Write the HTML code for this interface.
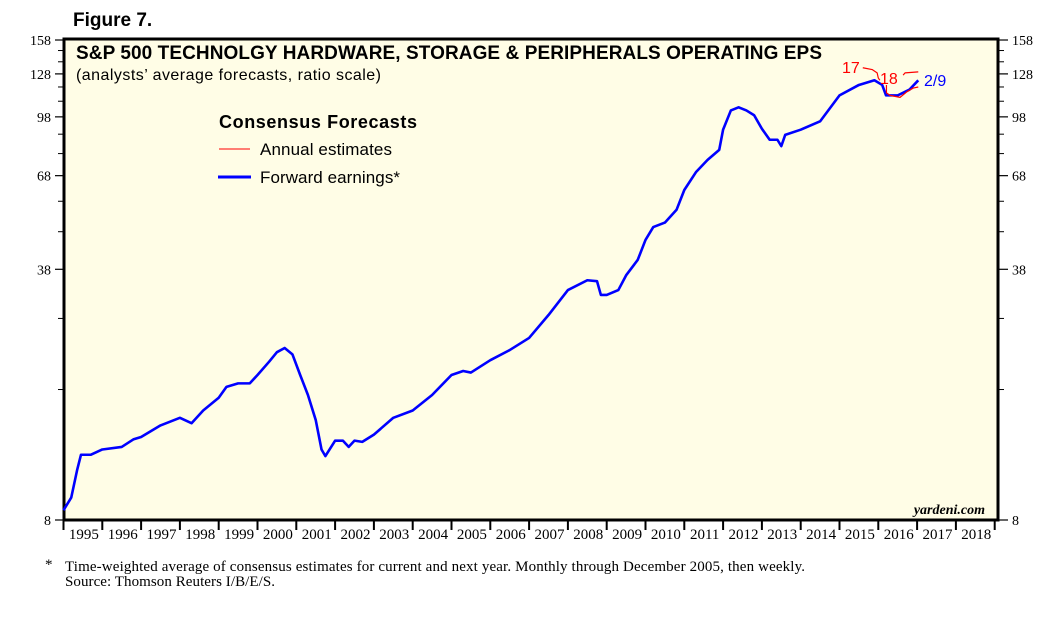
<!DOCTYPE html>
<html><head><meta charset="utf-8"><style>
body{margin:0;background:#fff;width:1055px;height:626px;overflow:hidden;font-family:"Liberation Sans",sans-serif}
</style></head><body>
<svg id="chart" width="1055" height="626" xmlns="http://www.w3.org/2000/svg">
<text x="73" y="26" font-size="19" font-weight="bold" font-family="Liberation Sans">Figure 7.</text>
<rect x="64" y="39" width="934" height="481" fill="#fffde6" stroke="#000" stroke-width="3"/>
<text x="76" y="59" font-size="19" font-weight="bold" font-family="Liberation Sans" textLength="746">S&amp;P 500 TECHNOLGY HARDWARE, STORAGE &amp; PERIPHERALS OPERATING EPS</text>
<text x="76" y="80" font-size="16" font-family="Liberation Sans" textLength="305">(analysts’ average forecasts, ratio scale)</text>
<text x="219" y="128" font-size="18" font-weight="bold" font-family="Liberation Sans" textLength="198">Consensus Forecasts</text>
<line x1="219" y1="149" x2="250" y2="149" stroke="#f00" stroke-width="1"/>
<text x="260" y="155" font-size="17" font-family="Liberation Sans" textLength="132">Annual estimates</text>
<line x1="218" y1="177" x2="251" y2="177" stroke="#00f" stroke-width="3"/>
<text x="260" y="183" font-size="17" font-family="Liberation Sans" textLength="140">Forward earnings*</text>
<text x="985" y="514" font-size="14" font-style="italic" font-weight="bold" text-anchor="end" font-family="Liberation Serif">yardeni.com</text>
<text x="45" y="569" font-size="15" font-family="Liberation Serif">*</text>
<text x="65" y="571" font-size="15" font-family="Liberation Serif" textLength="740">Time-weighted average of consensus estimates for current and next year. Monthly through December 2005, then weekly.</text>
<text x="65" y="586" font-size="15" font-family="Liberation Serif" textLength="210">Source: Thomson Reuters I/B/E/S.</text>
<g id="axes"></g><g id="series"></g>
</svg>
<script>
const yTickLabels=[8,38,68,98,128,158];
const yMinorTicks=[18,28,48,58,78,88,108,118,138,148];
const years=[1995,1996,1997,1998,1999,2000,2001,2002,2003,2004,2005,2006,2007,2008,2009,2010,2011,2012,2013,2014,2015,2016,2017,2018];
const fwdDates=[1995.0,1995.2,1995.35,1995.45,1995.7,1996.0,1996.5,1996.8,1997.0,1997.5,1998.0,1998.3,1998.6,1999.0,1999.2,1999.5,1999.8,2000.0,2000.3,2000.5,2000.7,2000.9,2001.1,2001.3,2001.5,2001.65,2001.75,2002.0,2002.2,2002.35,2002.5,2002.7,2003.0,2003.5,2004.0,2004.5,2005.0,2005.3,2005.5,2006.0,2006.5,2007.0,2007.5,2008.0,2008.5,2008.75,2008.85,2009.0,2009.3,2009.5,2009.8,2010.0,2010.2,2010.5,2010.8,2011.0,2011.3,2011.6,2011.9,2012.0,2012.2,2012.4,2012.6,2012.8,2013.0,2013.2,2013.4,2013.5,2013.6,2014.0,2014.5,2015.0,2015.5,2015.9,2016.1,2016.2,2016.5,2016.8,2017.03];
const fwdValues=[8.5,9.2,10.9,12.0,12.0,12.4,12.6,13.2,13.4,14.4,15.1,14.6,15.8,17.1,18.3,18.7,18.7,19.7,21.4,22.7,23.3,22.4,19.7,17.4,14.9,12.4,11.9,13.1,13.1,12.6,13.1,13.0,13.6,15.1,15.8,17.4,19.7,20.2,20.0,21.6,23.0,24.8,28.6,33.4,35.5,35.3,32.4,32.4,33.4,36.6,40.3,45.6,49.4,50.8,55,62.2,69.5,75,79.8,90.5,102,104,102,99,91,85,85,81.7,87.6,90.5,95.3,112,119.5,123,119.5,112,112,116,123];
const est17Dates=[2015.6,2015.84,2015.97,2016.0,2016.04];
const est17Values=[133,131.5,128.8,124.8,123];
const est18Dates=[2016.21,2016.21,2016.3,2016.56,2016.74,2016.9,2017.03];
const est18Values=[119.5,113.8,112,110.6,114.6,117.2,118];
const est17bDates=[2016.64,2016.69,2017.03];
const est17bValues=[127,128.8,129.6];
const NS='http://www.w3.org/2000/svg';
const X0=63.5,YW=38.8,YB=520,K=160.9;
function xs(t){return X0+(t-1995)*YW;}
function ys(v){return YB-K*Math.log(v/8);}
function mk(tag,attrs,parent){const e=document.createElementNS(NS,tag);for(const k in attrs)e.setAttribute(k,attrs[k]);parent.appendChild(e);return e;}
const ax=document.getElementById('axes'),sr=document.getElementById('series');
yTickLabels.forEach(v=>{const y=ys(v);
 let t=mk('line',{x1:55,x2:64,y1:y,y2:y,stroke:'#000','stroke-width':1.2},ax);
 
 
 t=mk('line',{x1:998,x2:1008,y1:y,y2:y,stroke:'#000','stroke-width':1.2},ax);
 
 
 let l=mk('text',{x:51,y:y+5,'text-anchor':'end','font-size':14,'font-family':'Liberation Serif'},ax);l.textContent=v;
 
 
 l=mk('text',{x:1012,y:y+5,'font-size':14,'font-family':'Liberation Serif'},ax);l.textContent=v;
 
 
});
yMinorTicks.forEach(v=>{const y=ys(v);
 let t=mk('line',{x1:58,x2:64,y1:y,y2:y,stroke:'#000','stroke-width':1},ax);
 
 
 t=mk('line',{x1:998,x2:1004,y1:y,y2:y,stroke:'#000','stroke-width':1},ax);
 
 
});
years.concat([2019]).forEach(yr=>{const x=xs(yr);
 const t=mk('line',{x1:x,x2:x,y1:520,y2:530,stroke:'#000','stroke-width':2},ax);
 
 
});
years.forEach(yr=>{
 const l=mk('text',{x:xs(yr+0.5)+1,y:539,'text-anchor':'middle','font-size':15,'font-family':'Liberation Serif'},ax);l.textContent=yr;
 
 
});
function path(d,v,c,w,name){const p=mk('polyline',{points:d.map((t,i)=>xs(t)+','+ys(v[i])).join(' '),fill:'none',stroke:c,'stroke-width':w,'stroke-linejoin':'round'},sr);
 
 }
path(fwdDates,fwdValues,'#00f',2.6,'forward-earnings-line');
path(est17Dates,est17Values,'#f00',1.2,'annual-estimate-2017-line');
path(est18Dates,est18Values,'#f00',1.2,'annual-estimate-2018-line');
path(est17bDates,est17bValues,'#f00',1.2,'annual-estimate-2017b-line');
let a=mk('text',{x:842,y:73,fill:'#f00','font-size':16,'font-family':'Liberation Sans'},sr);a.textContent='17';


a=mk('text',{x:880,y:84,fill:'#f00','font-size':16,'font-family':'Liberation Sans'},sr);a.textContent='18';


a=mk('text',{x:924,y:86,fill:'#00f','font-size':16,'font-family':'Liberation Sans'},sr);a.textContent='2/9';


</script>
</body></html>
